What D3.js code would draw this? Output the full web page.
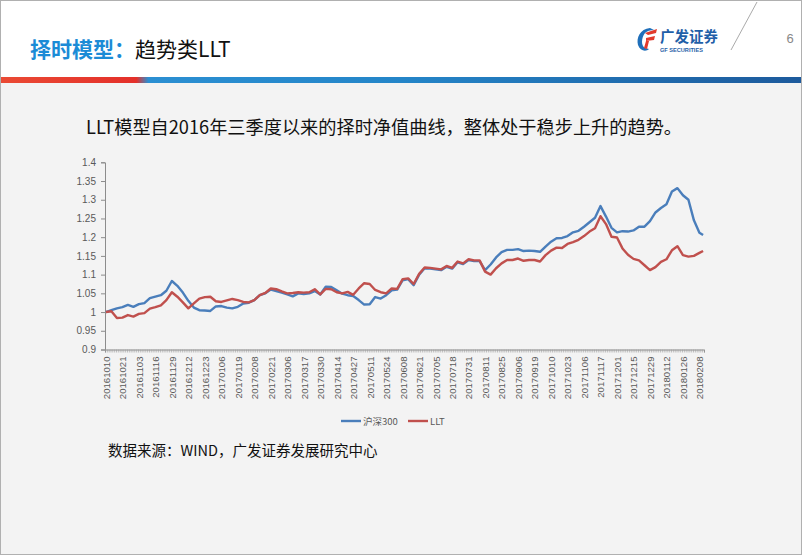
<!DOCTYPE html>
<html><head><meta charset="utf-8">
<script src="https://cdn.jsdelivr.net/npm/d3@7"></script>
<style>
html,body{margin:0;padding:0;background:#fff;}
svg{display:block;}
</style></head>
<body>
<svg id="c" width="802" height="555"></svg>
<script>
// ---- data ----
const dateLabels = ["20161010","20161021","20161103","20161116","20161129","20161212","20161223","20170106","20170119","20170208","20170221","20170306","20170317","20170330","20170414","20170427","20170511","20170524","20170608","20170621","20170705","20170718","20170731","20170811","20170825","20170906","20170919","20171010","20171023","20171106","20171117","20171201","20171215","20171229","20180112","20180126","20180208"];
const labelEvery = 9;      // trading days between labels
const sampleStep = 3;      // trading days between sampled values
const lastDay = 326;       // index of last trading day
const hs300 = [1.000,1.005,1.010,1.013,1.019,1.014,1.021,1.024,1.037,1.041,1.045,1.057,1.083,1.070,1.052,1.030,1.012,1.005,1.004,1.003,
1.015,1.016,1.012,1.010,1.014,1.023,1.025,1.032,1.045,1.050,1.060,1.056,1.052,1.047,1.042,1.050,1.048,1.050,1.056,1.047,
1.068,1.067,1.058,1.049,1.045,1.043,1.032,1.020,1.021,1.040,1.036,1.045,1.058,1.060,1.085,1.088,1.072,1.100,1.117,1.116,
1.114,1.112,1.121,1.116,1.133,1.128,1.139,1.136,1.136,1.112,1.127,1.146,1.160,1.166,1.166,1.168,1.163,1.164,1.163,1.161,
1.175,1.188,1.197,1.198,1.203,1.213,1.217,1.228,1.240,1.252,1.283,1.255,1.225,1.213,1.216,1.215,1.218,1.228,1.228,1.243,
1.266,1.278,1.288,1.322,1.331,1.312,1.300,1.245,1.212,1.206];
const llt = [1.000,1.002,0.984,0.985,0.992,0.988,0.995,0.997,1.009,1.013,1.018,1.032,1.053,1.041,1.026,1.010,1.023,1.036,1.040,1.041,
1.029,1.027,1.031,1.035,1.032,1.027,1.026,1.032,1.045,1.051,1.063,1.061,1.055,1.050,1.051,1.053,1.052,1.053,1.061,1.047,
1.062,1.061,1.053,1.050,1.054,1.046,1.063,1.077,1.075,1.059,1.053,1.050,1.063,1.062,1.088,1.090,1.075,1.102,1.119,1.118,
1.116,1.114,1.123,1.118,1.135,1.130,1.141,1.138,1.138,1.108,1.100,1.117,1.130,1.139,1.139,1.143,1.137,1.139,1.139,1.135,
1.152,1.164,1.172,1.171,1.182,1.187,1.193,1.203,1.215,1.224,1.256,1.235,1.201,1.199,1.170,1.153,1.142,1.138,1.125,1.112,
1.120,1.134,1.141,1.165,1.176,1.152,1.148,1.150,1.158,1.163];
const yTicks = [0.9,0.95,1,1.05,1.1,1.15,1.2,1.25,1.3,1.35,1.4];
const yTickLabels = ["0.9","0.95","1","1.05","1.1","1.15","1.2","1.25","1.3","1.35","1.4"];
const seriesNames = ["沪深300","LLT"];
const seriesColors = ["#4a7ebb","#c0504d"];

// ---- drawing ----
const svg = d3.select("#c");
const cjk = "'Noto Sans CJK SC','Noto Sans',sans-serif";
const lat = "'Liberation Sans',Arial,sans-serif";

// background
svg.append("rect").attr("width",802).attr("height",555).attr("fill","#f3f3f3");
svg.append("rect").attr("width",802).attr("height",77).attr("fill","#ffffff");
const gb = svg.append("defs").append("linearGradient").attr("id","bar").attr("x1","0").attr("x2","1");
[[0,"#ea4a34"],[0.17,"#e4302a"],[0.185,"#2b8fd2"],[0.5,"#2485c8"],[1,"#1d5a9c"]].forEach(s=>gb.append("stop").attr("offset",s[0]).attr("stop-color",s[1]));
svg.append("rect").attr("y",77).attr("width",802).attr("height",6).attr("fill","url(#bar)");
svg.append("rect").attr("x",0.5).attr("y",0.5).attr("width",801).attr("height",554).attr("fill","none").attr("stroke","#b0b0b0");

// header
const t = svg.append("text").attr("x",30).attr("y",57).style("font-family",cjk).style("font-size","21px");
t.append("tspan").attr("fill","#1b8bd6").style("font-weight","bold").text("择时模型：");
t.append("tspan").attr("fill","#111").text("趋势类LLT");
svg.append("line").attr("x1",757).attr("y1",2).attr("x2",731).attr("y2",50).attr("stroke","#aaa").attr("stroke-width",1);
svg.append("text").attr("x",790).attr("y",43).attr("text-anchor","middle").attr("fill","#888").style("font-family",lat).style("font-size","13px").text("6");
// logo
const lg = svg.append("g").attr("transform","translate(636,26)");
lg.append("path").attr("d","M14,2 C4,3 0,12 2,19 C4,25 10,26 13,23 L9,22 C5,20 5,12 9,7 C11,5 14,4 18,4 Z").attr("fill","#1f6fba");
lg.append("path").attr("d","M9,7 L21,3 L20,7 L12,9 Z M10,12 L19,10 L18,14 L10,15 Z M10,15 L13,15 L11,23 L8,22 Z").attr("fill","#e23a2c");
lg.append("text").attr("x",24).attr("y",16).attr("fill","#1f5fa8").style("font-family",cjk).style("font-weight","bold").style("font-size","14.5px").text("广发证券");
lg.append("text").attr("x",24).attr("y",26).attr("fill","#1f5fa8").style("font-family",lat).style("font-weight","bold").style("font-size","5.6px").text("GF SECURITIES");

// subtitle
svg.append("text").attr("x",86).attr("y",134).attr("fill","#111").style("font-family",cjk).style("font-size","18.2px")
  .text("LLT模型自2016年三季度以来的择时净值曲线，整体处于稳步上升的趋势。");

// chart
const x = d3.scaleLinear().domain([-0.5, lastDay+0.5]).range([105,704]);
const y = d3.scaleLinear().domain([0.9,1.4]).range([349.5,162.3]);
const dayOf = i => (i === hs300.length-1 ? lastDay : i*sampleStep);

// y axis
const ya = svg.append("g").attr("transform","translate(105,0)")
  .call(d3.axisLeft(y).tickValues(yTicks).tickSize(4).tickPadding(5).tickFormat((d,i)=>yTickLabels[i]));
ya.select(".domain").attr("stroke","#8c8c8c");
ya.selectAll(".tick line").attr("stroke","#8c8c8c");
ya.selectAll("text").attr("fill","#595959").style("font-family",lat).style("font-size","10px");

// x axis minor ticks (category boundaries)
const xm = svg.append("g").attr("transform","translate(0,349.5)")
  .call(d3.axisBottom(x).tickValues(d3.range(-0.5,lastDay+1,1)).tickSize(3).tickFormat(""));
xm.select(".domain").attr("stroke","#8c8c8c");
xm.selectAll(".tick line").attr("stroke","#9a9a9a").attr("stroke-width",0.6);
// x labels
const xl = svg.append("g").attr("transform","translate(0,349.5)")
  .call(d3.axisBottom(x).tickValues(dateLabels.map((d,i)=>i*labelEvery)).tickSize(0).tickFormat((d,i)=>dateLabels[i]));
xl.select(".domain").remove();
xl.selectAll(".tick text").attr("fill","#595959").style("font-family",lat).style("font-size","9.6px")
  .attr("transform","rotate(-90)").attr("text-anchor","end").attr("x",-7).attr("y",0).attr("dy","0.35em");

// lines
const line = d3.line().x((d,i)=>x(dayOf(i))).y(d=>y(d));
[hs300, llt].forEach((s,k)=>{
  svg.append("path").datum(s).attr("d",line).attr("fill","none")
    .attr("stroke",seriesColors[k]).attr("stroke-width",2.4).attr("stroke-linejoin","round");
});

// legend
const leg = [{x:341},{x:408}];
seriesNames.forEach((n,k)=>{
  svg.append("line").attr("x1",leg[k].x).attr("x2",leg[k].x+20).attr("y1",421).attr("y2",421)
    .attr("stroke",seriesColors[k]).attr("stroke-width",2.4);
  svg.append("text").attr("x",leg[k].x+22).attr("y",424.5).attr("fill","#595959")
    .style("font-family",cjk).style("font-size","9.5px").text(n);
});

// source
svg.append("text").attr("x",108).attr("y",456).attr("fill","#111").style("font-family",cjk).style("font-size","14.5px")
  .text("数据来源：WIND，广发证券发展研究中心");
</script>
</body></html>
